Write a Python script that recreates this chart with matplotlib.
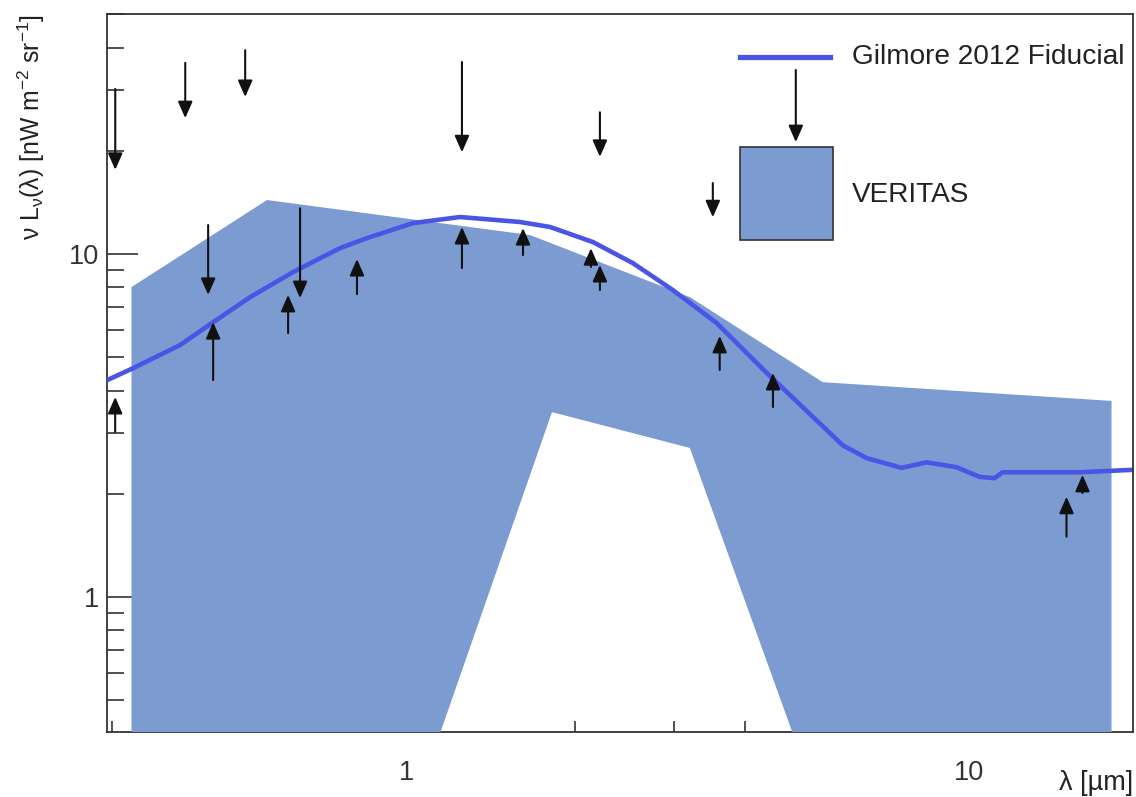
import matplotlib
matplotlib.use("Agg")
import matplotlib.pyplot as plt
from matplotlib.patches import Rectangle
from matplotlib.ticker import LogLocator, NullFormatter, FuncFormatter

plt.rcParams['font.family'] = ['Liberation Sans', 'DejaVu Sans']
plt.rcParams['mathtext.fontset'] = 'custom'
plt.rcParams['mathtext.rm'] = 'Liberation Sans'
plt.rcParams['mathtext.it'] = 'Liberation Sans:italic'

# VERITAS EBL band: upper edge and lower edge (lower edge dips out of range)
band_x_up = [0.325, 0.566, 1.661, 3.195, 5.505, 17.95]
band_up = [8.01, 14.37, 11.36, 7.49, 4.23, 3.73]
band_x_lo = [17.95, 4.869, 3.195, 1.817, 1.149, 0.325]
band_lo = [0.4, 0.4, 2.72, 3.46, 0.4, 0.4]

# Gilmore et al. 2012 fiducial model
gil_x = [0.2944, 0.3274, 0.3968, 0.4542, 0.5284, 0.6298, 0.7636, 0.8524, 1.029,
         1.247, 1.594, 1.803, 2.148, 2.53, 2.98, 3.567, 4.377, 5.973, 6.59, 7.60,
         8.42, 9.52, 10.46, 11.12, 11.49, 15.75, 19.72]
gil_y = [4.29, 4.65, 5.43, 6.33, 7.49, 8.86, 10.41, 11.13, 12.31,
         12.82, 12.40, 11.99, 10.84, 9.41, 7.85, 6.29, 4.50, 2.77, 2.54, 2.38,
         2.47, 2.39, 2.24, 2.22, 2.31, 2.31, 2.35]

# upper limits (arrow from top value down to limit)
ul_x = [0.3041, 0.405, 0.5176, 1.257, 2.211, 3.51, 4.93, 0.4448, 0.648]
ul_top = [30.3, 36.1, 39.3, 36.3, 25.9, 16.1, 34.4, 12.15, 13.6]
ul_val = [17.6, 24.9, 28.7, 19.8, 19.2, 12.8, 21.2, 7.6, 7.44]

# lower limits (arrow from bottom value up to limit)
ll_x = [0.304, 0.454, 0.617, 0.818, 1.257, 1.614, 2.131, 2.211, 3.61, 4.49, 14.93, 15.94]
ll_bot = [3.03, 4.29, 5.88, 7.64, 9.10, 9.93, 9.17, 7.85, 4.59, 3.58, 1.50, 2.01]
ll_val = [3.83, 6.33, 7.6, 9.67, 11.99, 11.9, 10.4, 9.29, 5.77, 4.50, 1.96, 2.27]

band_color = '#7b9bd1'
line_color = '#4a55e6'
fs = 19.5

fig = plt.figure(figsize=(11.36, 7.97), dpi=100)
ax = fig.add_axes([107 / 1136, 1 - 732 / 797, 1026 / 1136, 718 / 797])
ax.set_xscale('log')
ax.set_yscale('log')
ax.set_xlim(0.294, 19.6)
ax.set_ylim(0.404, 50.1)

ax.fill(band_x_up + band_x_lo, band_up + band_lo, color=band_color, lw=0, zorder=1)
ax.plot(gil_x, gil_y, color=line_color, lw=3.3, zorder=2)

arrow_style = dict(arrowstyle='-|>,head_length=0.5,head_width=0.22', color='#111111',
                   lw=1.5, shrinkA=0, shrinkB=0, mutation_scale=20)
for x, y0, y1 in zip(ul_x, ul_top, ul_val):
    ax.annotate('', xy=(x, y1), xytext=(x, y0), arrowprops=arrow_style, zorder=3)
for x, y0, y1 in zip(ll_x, ll_bot, ll_val):
    ax.annotate('', xy=(x, y1), xytext=(x, y0), arrowprops=arrow_style, zorder=3)

# legend drawn by hand
ax.plot([0.617, 0.705], [0.940, 0.940], color=line_color, lw=3.8,
        transform=ax.transAxes, clip_on=False, zorder=4)
ax.text(0.726, 0.940, 'Gilmore 2012 Fiducial', transform=ax.transAxes,
        fontsize=20.2, va='center', ha='left', color='#222222')
ax.add_patch(Rectangle((0.617, 0.6852), 0.0906, 0.1296, transform=ax.transAxes,
                       facecolor=band_color, edgecolor='#333333', lw=1.2, zorder=4))
ax.text(0.726, 0.748, 'VERITAS', transform=ax.transAxes,
        fontsize=20.2, va='center', ha='left', color='#222222')

# ROOT-like axes: inner ticks on left/bottom only, drawn beneath the band
ax.set_axisbelow(True)
for side in ['bottom', 'left']:
    ax.spines[side].set_zorder(0.5)
for sp in ax.spines.values():
    sp.set_linewidth(1.3)
    sp.set_color('#333333')

fmt = FuncFormatter(lambda v, p: '%g' % v)
for axis in [ax.xaxis, ax.yaxis]:
    axis.set_major_locator(LogLocator(base=10))
    axis.set_minor_locator(LogLocator(base=10, subs=range(2, 10)))
    axis.set_major_formatter(fmt)
    axis.set_minor_formatter(NullFormatter())

ax.tick_params(which='both', direction='in', top=False, right=False,
               labelsize=fs, colors='#333333', width=1.2)
ax.tick_params(axis='y', which='major', length=22, pad=6)
ax.tick_params(axis='y', which='minor', length=12)
ax.tick_params(axis='x', which='major', length=15, pad=20)
ax.tick_params(axis='x', which='minor', length=8)

ax.set_xlabel('λ [µm]', loc='right', fontsize=fs, color='#222222')
ax.xaxis.set_label_coords(1.0, -0.053)
ax.set_ylabel(r'ν L$_{\mathrm{ν}}$(λ) [nW m$^{\mathrm{-2}}$ sr$^{\mathrm{-1}}$]',
              loc='top', fontsize=17.8, color='#222222')
ax.yaxis.set_label_coords(-0.058, 1.0)

fig.savefig('out.png', dpi=100)
